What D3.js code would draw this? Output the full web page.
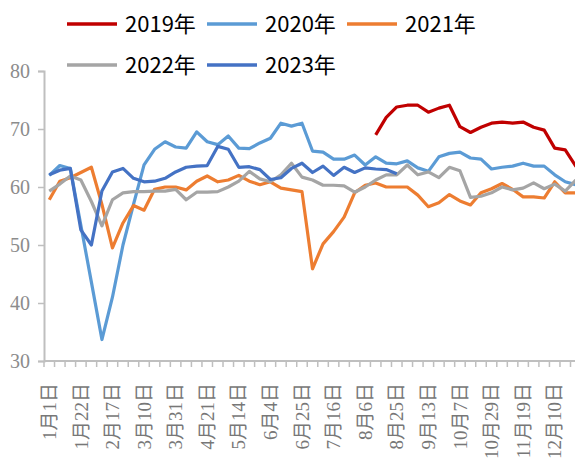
<!DOCTYPE html>
<html><head><meta charset="utf-8">
<script src="https://cdn.jsdelivr.net/npm/d3@7"></script>
<style>html,body{margin:0;padding:0;background:#fff;overflow:hidden}</style>
</head><body>
<svg id="c" width="575" height="467"></svg>
<script>
const categories = ["1月1日","1月8日","1月15日","1月22日","1月29日","2月10日","2月17日","2月24日","3月3日","3月10日","3月17日","3月24日","3月31日","4月7日","4月14日","4月21日","4月28日","5月7日","5月14日","5月21日","5月28日","6月4日","6月11日","6月18日","6月25日","7月2日","7月9日","7月16日","7月23日","7月30日","8月6日","8月13日","8月19日","8月25日","9月1日","9月7日","9月13日","9月20日","9月30日","10月7日","10月14日","10月22日","10月29日","11月5日","11月12日","11月19日","11月26日","12月3日","12月10日","12月17日","12月24日","12月31日"];
const seriesNames = ["2019年","2020年","2021年","2022年","2023年"];
// 2019 starts at category index 31
const v2019 = [null,null,null,null,null,null,null,null,null,null,null,null,null,null,null,null,null,null,null,null,null,null,null,null,null,null,null,null,null,null,null,
  69,72,73.8,74.1,74.1,72.9,73.6,74.1,70.4,69.4,70.3,71,71.2,71,71.2,70.3,69.8,66.7,66.4,63.6,62.5];
const v2020 = [62,63.7,63.2,53.4,43.6,33.7,41,50,57,63.8,66.5,67.8,66.9,66.7,69.5,67.8,67.3,68.8,66.7,66.6,67.6,68.4,71,70.5,71,66.2,66,64.8,64.8,65.5,63.8,65.2,64.1,64,64.5,63.3,62.7,65.2,65.8,66,65,64.8,63.1,63.4,63.6,64.1,63.6,63.6,62.1,60.9,60.4,60];
const v2021 = [57.8,61,61.6,62.5,63.4,57,49.5,53.8,56.8,56,59.6,60,60,59.5,61,61.9,60.9,61.2,62,61,60.4,60.9,59.8,59.5,59.2,45.9,50.2,52.3,54.8,59,60.3,60.7,60,60,60,58.6,56.6,57.3,58.7,57.6,56.9,59,59.7,60.6,59.6,58.3,58.3,58.1,60.9,59,59,59];
const v2022 = [59.3,60.5,61.9,61.2,57.5,53.3,57.8,59,59.2,59.2,59.3,59.3,59.6,57.8,59.1,59.1,59.2,60,61,62.7,61.4,60.9,62.1,64.1,61.7,61.2,60.3,60.3,60.2,59.1,60,61.2,62.1,62.1,63.8,62.1,62.6,61.6,63.4,62.8,58.2,58.4,59,60,59.5,59.8,60.7,59.7,60.5,59.3,61.2,61];
const v2023 = [62.1,62.9,63.2,52.6,50,59.3,62.6,63.2,61.5,60.9,61,61.5,62.6,63.4,63.6,63.7,67,66.5,63.4,63.5,63,61.3,61.6,63.2,64.1,62.5,63.6,62,63.4,62.5,63.3,63.1,63,62.3];
const seriesValues = [v2019,v2020,v2021,v2022,v2023];
const colors = ["#C00000","#5B9BD5","#ED7D31","#A5A5A5","#4472C4"];
const yTicks = [30,40,50,60,70,80];

const svg = d3.select("#c");
const x0 = 44, yTop = 71, yBot = 361, bw = 10.53;
const x = d3.scaleBand().domain(categories).range([x0, x0 + bw*categories.length]).padding(0);
const y = d3.scaleLinear().domain([30,80]).range([yBot, yTop]);
const axisColor = "#BFBFBF";

// y axis
const ya = svg.append("g").attr("transform",`translate(${x0},0)`)
  .call(d3.axisLeft(y).tickValues(yTicks).tickSize(6).tickPadding(8));
ya.select(".domain").attr("stroke",axisColor).attr("stroke-width",2);
ya.selectAll(".tick line").attr("stroke",axisColor).attr("stroke-width",1.5);
ya.selectAll(".tick text").attr("fill","#8c8c8c").style("font-family","'Liberation Serif','Times New Roman',serif").style("font-size","20px");

// x axis
const xa = svg.append("g").attr("transform",`translate(0,${yBot})`);
xa.append("line").attr("x1",x0).attr("x2",x.range()[1]).attr("y1",0).attr("y2",0).attr("stroke",axisColor).attr("stroke-width",2);
const bounds = categories.map(c => x(c)).concat([x.range()[1]]);
xa.selectAll("line.tk").data(bounds).enter().append("line").attr("class","tk")
  .attr("x1",d=>d).attr("x2",d=>d).attr("y1",0).attr("y2",6).attr("stroke",axisColor).attr("stroke-width",1.5);
xa.selectAll("text").data(categories.filter((c,i)=>i%3===0)).enter().append("text")
  .attr("transform",c=>`translate(${x(c)+x.bandwidth()/2},${22}) rotate(-90)`)
  .attr("text-anchor","end").attr("dy","0.35em")
  .attr("fill","#777").style("font-family","'Liberation Serif','Noto Sans CJK SC',serif").style("font-size","19px")
  .text(c=>c);

// lines
const line = d3.line().defined(d=>d.v!=null).x(d=>x(d.c)+x.bandwidth()/2).y(d=>y(d.v));
seriesValues.forEach((vals,k)=>{
  const data = vals.map((v,i)=>({c:categories[i], v:v}));
  svg.append("path").datum(data).attr("d",line).attr("fill","none")
    .attr("stroke",colors[k]).attr("stroke-width",3.2).attr("stroke-linejoin","round");
});

// legend
const legPos = [[67,24],[207,24],[347,24],[67,65],[207,65]];
seriesNames.forEach((n,k)=>{
  const [lx,ly] = legPos[k];
  svg.append("line").attr("x1",lx).attr("x2",lx+50).attr("y1",ly).attr("y2",ly).attr("stroke",colors[k]).attr("stroke-width",3.5);
  svg.append("text").attr("x",lx+58).attr("y",ly).attr("dy","0.36em").attr("fill","#000")
    .style("font-family","'Noto Sans CJK SC','Noto Sans',sans-serif").style("font-size","22px").text(n);
});
</script>
</body></html>
